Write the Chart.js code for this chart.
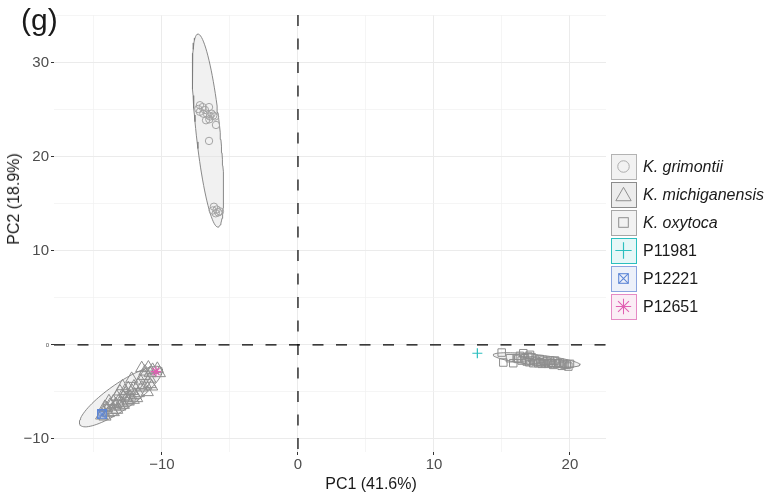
<!DOCTYPE html>
<html>
<head>
<meta charset="utf-8">
<script src="https://cdn.jsdelivr.net/npm/chart.js@4"></script>
<style>
  body { margin: 0; background: #fff; }
  #wrap { position: relative; width: 767px; height: 495px; font-family: "Liberation Sans", Arial, sans-serif; color: #1a1a1a; }
  #tag { position: absolute; left: 21px; top: 5px; font-size: 30px; line-height: 1; }
  #xtitle { position: absolute; left: 371px; top: 476px; font-size: 16px; line-height: 1; transform: translateX(-50%); white-space: nowrap; }
  #ytitle { position: absolute; left: 14px; top: 199px; font-size: 16px; line-height: 1; white-space: nowrap;
            transform: translate(-50%, -50%) rotate(-90deg); }
  #legend { position: absolute; left: 611px; top: 154px; }
  .row { display: flex; align-items: center; height: 26px; margin-bottom: 2px; }
  .key { width: 26px; height: 26px; box-sizing: border-box; border: 1.5px solid; }
  .key svg { display: block; }
  .lab { margin-left: 6px; font-size: 16px; }
</style>
</head>
<body>
<div id="wrap">
  <canvas id="pca" width="767" height="495"></canvas>
  <div id="tag">(g)</div>
  <div id="xtitle">PC1 (41.6%)</div>
  <div id="ytitle">PC2 (18.9%)</div>
  <div id="legend"></div>
</div>
<script>
// MARK: data (PC1 / PC2 scores)
var grimontiiX = [-7.21, -7.01, -7.33, -6.84, -6.54, -6.67, -6.47, -6.35, -6.23, -6.52, -6.76, -6.10, -6.03, -6.54, -7.21, -6.96,
                  -6.18, -5.98, -6.27, -5.86, -6.05, -5.74];
var grimontiiY = [25.5, 25.3, 25.1, 25.0, 25.3, 24.5, 24.3, 24.6, 24.4, 24.0, 23.9, 24.3, 23.4, 21.7, 24.8, 24.6,
                  14.7, 14.4, 14.3, 14.1, 14.0, 14.2];

var michiganensisX = [-11.49, -11.00, -10.69, -10.34, -10.19, -10.88, -11.25, -12.23, -12.06, -11.74, -11.49, -11.18, -10.88, -10.76,
                      -11.08, -11.74, -11.99, -13.09, -12.72, -12.48, -13.33, -12.84, -12.60, -12.35, -13.58, -13.21, -12.96,
                      -13.82, -13.46, -13.09, -14.07, -13.70, -13.33, -14.31, -13.95, -13.58, -14.44, -14.19, -12.84, -12.48,
                      -12.11, -11.86, -12.50, -12.20, -13.90, -14.20, -12.90, -11.60, -10.90, -11.30, -13.40, -12.70];
var michiganensisY = [-2.48, -2.41, -2.66, -2.55, -3.01, -3.01, -2.84, -3.62, -4.43, -4.26, -4.54, -4.33, -4.18, -4.43,
                      -5.03, -5.14, -5.32, -4.96, -4.89, -4.61, -5.50, -5.50, -5.67, -5.50, -6.03, -6.03, -6.20,
                      -6.38, -6.56, -6.56, -6.73, -6.91, -6.91, -7.10, -7.27, -7.16, -7.52, -7.63, -6.38, -6.03,
                      -5.85, -5.67, -5.90, -4.90, -6.00, -6.60, -4.40, -3.80, -3.60, -3.30, -6.30, -5.20];

var oxytocaX = [14.98, 15.10, 15.83, 16.32, 16.57, 16.69, 16.94, 17.18, 17.43, 17.55, 17.79, 18.04, 18.28, 18.53, 18.65, 18.90,
                19.14, 19.26, 19.51, 19.76, 20.00, 16.08, 16.45, 16.82, 17.06, 17.30, 17.67, 17.92, 18.16, 18.40, 18.77,
                19.02, 19.39, 19.88, 15.59, 17.06, 16.20, 17.00, 17.80, 18.60, 19.60];
var oxytocaY = [-0.82, -1.88, -1.95, -1.17, -0.89, -1.42, -1.24, -1.31, -1.60, -1.77, -1.52, -1.67, -1.77, -1.67, -1.95, -1.67,
                -1.95, -1.88, -2.02, -2.13, -2.02, -1.42, -1.67, -1.77, -1.67, -1.95, -1.95, -2.02, -1.95, -2.02, -2.13,
                -2.02, -2.23, -2.31, -1.42, -1.06, -1.50, -1.85, -1.85, -1.90, -2.10];

var p11981X = [13.19];
var p11981Y = [-0.89];
var p12221X = [-14.40];
var p12221Y = [-7.40];
var p12651X = [-10.44];
var p12651Y = [-2.84];

// ellipses: centre, half major axis vector, half minor axis vector (data units)
var ellipseCentre = [[-6.62, 22.8], [-13.02, -5.50], [17.55, -1.60]];
var ellipseMajor  = [[0.74, -10.27], [3.00, 3.02], [3.19, -0.53]];
var ellipseMinor  = [[0.88, 0.13], [0.55, -1.13], [-0.04, -0.55]];

var xTicks = [-10, 0, 10, 20];
var yTicks = [-10, 0, 10, 20, 30];
var groupNames = ['K. grimontii', 'K. michiganensis', 'K. oxytoca', 'P11981', 'P12221', 'P12651'];

// MARK: styles
var GRAY = '#8e8e8e', CYAN = '#2bbfbf', BLUE = '#5d86d6', PINK = '#e060b2';
var FONT = '"Liberation Sans", Arial, sans-serif';

function pts(xs, ys) { return xs.map(function (x, i) { return { x: x, y: ys[i] }; }); }

function ellipse(i) {
  var c = ellipseCentre[i], a = ellipseMajor[i], b = ellipseMinor[i], out = [];
  for (var k = 0; k <= 90; k++) {
    var t = 2 * Math.PI * k / 90;
    out.push({ x: c[0] + Math.cos(t) * a[0] + Math.sin(t) * b[0], y: c[1] + Math.cos(t) * a[1] + Math.sin(t) * b[1] });
  }
  return out;
}

function boxX(color) {
  var c = document.createElement('canvas');
  c.width = 10; c.height = 10;
  var g = c.getContext('2d');
  g.strokeStyle = color; g.lineWidth = 1.2;
  g.fillStyle = 'rgba(93,134,214,0.35)';
  g.fillRect(0.5, 0.5, 9, 9);
  g.strokeRect(0.5, 0.5, 9, 9);
  g.beginPath();
  g.moveTo(0.5, 0.5); g.lineTo(9.5, 9.5);
  g.moveTo(9.5, 0.5); g.lineTo(0.5, 9.5);
  g.stroke();
  return c;
}

function ellipseSet(i) {
  return {
    type: 'line', data: ellipse(i), showLine: true, fill: 'shape', pointRadius: 0, tension: 0,
    borderColor: '#7d7d7d', borderWidth: 0.9, backgroundColor: 'rgba(225,225,225,0.45)', order: 10
  };
}

function minus(v) { return v < 0 ? '\u2212' + Math.abs(v) : String(v); }

// dashed reference lines at PC1 = 0 and PC2 = 0
var zeroLines = {
  id: 'zeroLines',
  beforeDatasetsDraw: function (chart) {
    var g = chart.ctx, a = chart.chartArea;
    var x0 = chart.scales.x.getPixelForValue(0), y0 = chart.scales.y.getPixelForValue(0);
    g.save();
    g.strokeStyle = '#000'; g.lineWidth = 1.2; g.setLineDash([11, 12.5]);
    g.beginPath();
    g.moveTo(a.left, y0); g.lineTo(a.right, y0);
    g.moveTo(x0, a.top); g.lineTo(x0, a.bottom);
    g.stroke();
    g.restore();
  }
};

function gridOpts(major) {
  return {
    color: function (c) { return c.tick && major.indexOf(c.tick.value) >= 0 ? '#ebebeb' : '#f1f1f1'; },
    lineWidth: function (c) { return c.tick && major.indexOf(c.tick.value) >= 0 ? 1 : 0.7; },
    tickColor: function (c) { return c.tick && major.indexOf(c.tick.value) >= 0 ? '#333' : 'rgba(0,0,0,0)'; },
    tickLength: 3,
    drawTicks: true
  };
}

var ctx = document.getElementById('pca');
var myChart = new Chart(ctx, {
  type: 'scatter',
  data: {
    datasets: [
      ellipseSet(0), ellipseSet(1), ellipseSet(2),
      { label: groupNames[0], data: pts(grimontiiX, grimontiiY), pointStyle: 'circle', pointRadius: 3.7,
        borderColor: '#a3a3a3', backgroundColor: 'rgba(0,0,0,0)', borderWidth: 1, order: 5 },
      { label: groupNames[1], data: pts(michiganensisX, michiganensisY), pointStyle: 'triangle', pointRadius: 7,
        borderColor: GRAY, backgroundColor: 'rgba(0,0,0,0)', borderWidth: 1, order: 5 },
      { label: groupNames[2], data: pts(oxytocaX, oxytocaY), pointStyle: 'rect', pointRadius: 5.3,
        borderColor: GRAY, backgroundColor: 'rgba(0,0,0,0)', borderWidth: 1, order: 5 },
      { label: groupNames[3], data: pts(p11981X, p11981Y), pointStyle: 'cross', pointRadius: 5,
        borderColor: CYAN, borderWidth: 1.2, order: 1 },
      { label: groupNames[4], data: pts(p12221X, p12221Y), pointStyle: boxX(BLUE), pointRadius: 5, order: 1 },
      { label: groupNames[5], data: pts(p12651X, p12651Y), pointStyle: 'star', pointRadius: 5,
        borderColor: PINK, borderWidth: 1.2, order: 1 }
    ]
  },
  options: {
    responsive: false,
    animation: false,
    layout: { padding: { top: 15, right: 161, left: 0, bottom: 0 } },
    plugins: { legend: { display: false }, tooltip: { enabled: false } },
    scales: {
      x: {
        type: 'linear', min: -17.94, max: 22.65,
        border: { display: false },
        grid: gridOpts(xTicks),
        ticks: {
          stepSize: 5, includeBounds: false, autoSkip: false, maxRotation: 0, padding: 1,
          color: '#4d4d4d', font: { size: 15, family: FONT },
          callback: function (v) { return xTicks.indexOf(v) >= 0 ? minus(v) : ''; }
        },
        afterFit: function (s) { s.height = 43; }
      },
      y: {
        type: 'linear', min: -11.4, max: 35.1,
        border: { display: false },
        grid: gridOpts(yTicks),
        ticks: {
          stepSize: 5, includeBounds: false, autoSkip: false, padding: 2,
          color: '#4d4d4d',
          font: function (c) { return { size: c.tick && c.tick.value === 0 ? 6 : 15, family: FONT }; },
          callback: function (v) { return yTicks.indexOf(v) >= 0 ? minus(v) : ''; }
        },
        afterFit: function (s) { s.width = 54; }
      }
    }
  },
  plugins: [zeroLines]
});

// MARK: legend (html, symbols in svg)
var keyStyle = [
  { border: '#b3b3b3', fill: '#f2f2f2', italic: true,
    svg: '<circle cx="12" cy="12" r="6" fill="none" stroke="#a8a8a8" stroke-width="1"/>' },
  { border: '#8c8c8c', fill: '#ededed', italic: true,
    svg: '<polygon points="12,4.5 20,18.5 4,18.5" fill="none" stroke="#8c8c8c" stroke-width="1"/>' },
  { border: '#a6a6a6', fill: '#f2f2f2', italic: true,
    svg: '<rect x="7" y="7" width="10" height="10" fill="none" stroke="#8c8c8c" stroke-width="1"/>' },
  { border: CYAN, fill: '#e6f7f7', italic: false,
    svg: '<path d="M12 3.5V20.5M3.5 12H20.5" stroke="' + CYAN + '" stroke-width="1.2"/>' },
  { border: '#8aa4df', fill: '#edf1fa', italic: false,
    svg: '<rect x="7" y="7" width="10" height="10" fill="none" stroke="' + BLUE + '" stroke-width="1.1"/><path d="M7 7L17 17M17 7L7 17" stroke="' + BLUE + '" stroke-width="1.1"/>' },
  { border: '#e58ac4', fill: '#fbedf5', italic: false,
    svg: '<path d="M12 4V20M4 12H20M6.3 6.3L17.7 17.7M17.7 6.3L6.3 17.7" stroke="' + PINK + '" stroke-width="1.1"/>' }
];
var legend = document.getElementById('legend');
groupNames.forEach(function (name, i) {
  var s = keyStyle[i];
  var row = document.createElement('div');
  row.className = 'row';
  row.innerHTML = '<div class="key" style="border-color:' + s.border + ';background:' + s.fill + '">' +
    '<svg width="23" height="23" viewBox="0 0 24 24">' + s.svg + '</svg></div>' +
    '<span class="lab" style="font-style:' + (s.italic ? 'italic' : 'normal') + '">' + name + '</span>';
  legend.appendChild(row);
});
</script>
</body>
</html>
